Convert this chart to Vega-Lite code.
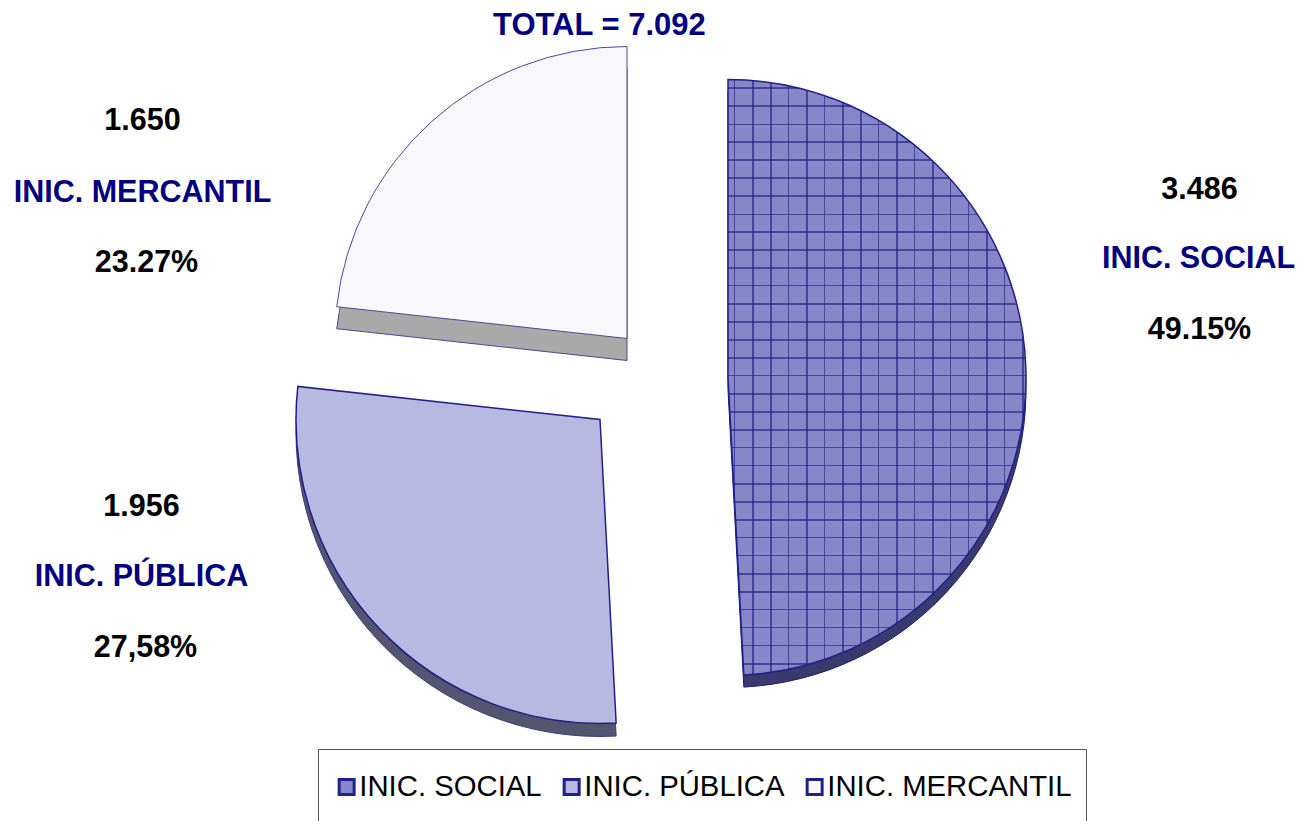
{
"$schema":"https://vega.github.io/schema/vega-lite/v6.json",
"width":1299,"height":821,"padding":0,"autosize":{"type":"none"},
"background":"white",
"title":{"text":"TOTAL = 7.092","font":"Liberation Sans","fontSize":31,"fontWeight":"bold","color":"#000080","anchor":"start","frame":"group","dx":493,"offset":-42},
"data":{"values":[
{"iniciativa":"INIC. SOCIAL","orden":1,"valor":3486,"valor_txt":"3.486","pct":"49.15%"},
{"iniciativa":"INIC. PÚBLICA","orden":2,"valor":1956,"valor_txt":"1.956","pct":"27,58%"},
{"iniciativa":"INIC. MERCANTIL","orden":3,"valor":1650,"valor_txt":"1.650","pct":"23.27%"}
]},
"transform":[{"stack":"valor","sort":[{"field":"orden","order":"ascending"}],"as":["t0","t1"]}],
"encoding":{
"theta":{"field":"t0","type":"quantitative","scale":{"domain":[0,7092],"range":[0,6.283185]}},
"theta2":{"field":"t1"}
},
"layer":[
{"transform":[{"filter":"datum.orden==1"}],"mark":{"type":"arc","outerRadius":298,"xOffset":78.5,"yOffset":-21,"fill":"#3a3a6e","stroke":"#1a1a6e","strokeWidth":1}},
{"transform":[{"filter":"datum.orden==2"}],"mark":{"type":"arc","outerRadius":304,"xOffset":-49.5,"yOffset":22,"fill":"#55556f","stroke":"#3a3a80","strokeWidth":1}},
{"transform":[{"filter":"datum.orden==3"}],"mark":{"type":"arc","outerRadius":292,"xOffset":-22.5,"yOffset":-50,"fill":"#a9a9a9","stroke":"#4a4a90","strokeWidth":1}},
{"transform":[{"filter":"datum.orden==1"}],"mark":{"type":"arc","outerRadius":298,"xOffset":78.5,"yOffset":-33,"stroke":"#20208a","strokeWidth":1.5},"encoding":{"color":{"field":"iniciativa","type":"nominal","sort":null,"scale":{"domain":["INIC. SOCIAL","INIC. PÚBLICA","INIC. MERCANTIL"],"range":["#8686c8","#b8b8e0","#f8f8fc"]},"legend":{"title":null,"orient":"none","legendX":318,"legendY":749,"direction":"horizontal","columns":3,"columnPadding":15,"padding":14,"clipHeight":48,"strokeColor":"#555555","fillColor":"white","symbolType":"square","symbolSize":225,"symbolStrokeColor":"#000080","symbolStrokeWidth":3,"labelFont":"Liberation Sans","labelFontSize":29.3,"labelColor":"#000000","labelOffset":-2,"labelLimit":400,"symbolOpacity":1}}}},
{"transform":[{"filter":"datum.orden==1"}],"mark":{"type":"arc","outerRadius":298,"xOffset":78.5,"yOffset":-33,"fill":{"gradient":"linear","x1":0,"x2":1,"y1":0,"y2":0,"stops":[
{"offset":0.020,"color":"#20208a00"},{"offset":0.020,"color":"#20208aa0"},{"offset":0.025,"color":"#20208aa0"},{"offset":0.025,"color":"#20208a00"},
{"offset":0.081,"color":"#20208a00"},{"offset":0.081,"color":"#20208aa0"},{"offset":0.086,"color":"#20208aa0"},{"offset":0.086,"color":"#20208a00"},
{"offset":0.141,"color":"#20208a00"},{"offset":0.141,"color":"#20208aa0"},{"offset":0.146,"color":"#20208aa0"},{"offset":0.146,"color":"#20208a00"},
{"offset":0.201,"color":"#20208a00"},{"offset":0.201,"color":"#20208aa0"},{"offset":0.206,"color":"#20208aa0"},{"offset":0.206,"color":"#20208a00"},
{"offset":0.262,"color":"#20208a00"},{"offset":0.262,"color":"#20208aa0"},{"offset":0.267,"color":"#20208aa0"},{"offset":0.267,"color":"#20208a00"},
{"offset":0.322,"color":"#20208a00"},{"offset":0.322,"color":"#20208aa0"},{"offset":0.327,"color":"#20208aa0"},{"offset":0.327,"color":"#20208a00"},
{"offset":0.383,"color":"#20208a00"},{"offset":0.383,"color":"#20208aa0"},{"offset":0.388,"color":"#20208aa0"},{"offset":0.388,"color":"#20208a00"},
{"offset":0.443,"color":"#20208a00"},{"offset":0.443,"color":"#20208aa0"},{"offset":0.448,"color":"#20208aa0"},{"offset":0.448,"color":"#20208a00"},
{"offset":0.503,"color":"#20208a00"},{"offset":0.503,"color":"#20208aa0"},{"offset":0.508,"color":"#20208aa0"},{"offset":0.508,"color":"#20208a00"},
{"offset":0.564,"color":"#20208a00"},{"offset":0.564,"color":"#20208aa0"},{"offset":0.569,"color":"#20208aa0"},{"offset":0.569,"color":"#20208a00"},
{"offset":0.624,"color":"#20208a00"},{"offset":0.624,"color":"#20208aa0"},{"offset":0.629,"color":"#20208aa0"},{"offset":0.629,"color":"#20208a00"},
{"offset":0.685,"color":"#20208a00"},{"offset":0.685,"color":"#20208aa0"},{"offset":0.690,"color":"#20208aa0"},{"offset":0.690,"color":"#20208a00"},
{"offset":0.745,"color":"#20208a00"},{"offset":0.745,"color":"#20208aa0"},{"offset":0.750,"color":"#20208aa0"},{"offset":0.750,"color":"#20208a00"},
{"offset":0.805,"color":"#20208a00"},{"offset":0.805,"color":"#20208aa0"},{"offset":0.810,"color":"#20208aa0"},{"offset":0.810,"color":"#20208a00"},
{"offset":0.866,"color":"#20208a00"},{"offset":0.866,"color":"#20208aa0"},{"offset":0.871,"color":"#20208aa0"},{"offset":0.871,"color":"#20208a00"},
{"offset":0.926,"color":"#20208a00"},{"offset":0.926,"color":"#20208aa0"},{"offset":0.931,"color":"#20208aa0"},{"offset":0.931,"color":"#20208a00"},
{"offset":0.987,"color":"#20208a00"},{"offset":0.987,"color":"#20208aa0"},{"offset":0.992,"color":"#20208aa0"},{"offset":0.992,"color":"#20208a00"}
]}}},
{"transform":[{"filter":"datum.orden==1"}],"mark":{"type":"arc","outerRadius":298,"xOffset":78.5,"yOffset":-33,"fill":{"gradient":"linear","x1":0,"x2":0,"y1":0,"y2":1,"stops":[
{"offset":0.013,"color":"#20208a00"},{"offset":0.013,"color":"#20208aa0"},{"offset":0.0155,"color":"#20208aa0"},{"offset":0.0155,"color":"#20208a00"},
{"offset":0.043,"color":"#20208a00"},{"offset":0.043,"color":"#20208aa0"},{"offset":0.0455,"color":"#20208aa0"},{"offset":0.0455,"color":"#20208a00"},
{"offset":0.074,"color":"#20208a00"},{"offset":0.074,"color":"#20208aa0"},{"offset":0.0765,"color":"#20208aa0"},{"offset":0.0765,"color":"#20208a00"},
{"offset":0.104,"color":"#20208a00"},{"offset":0.104,"color":"#20208aa0"},{"offset":0.1065,"color":"#20208aa0"},{"offset":0.1065,"color":"#20208a00"},
{"offset":0.134,"color":"#20208a00"},{"offset":0.134,"color":"#20208aa0"},{"offset":0.1365,"color":"#20208aa0"},{"offset":0.1365,"color":"#20208a00"},
{"offset":0.164,"color":"#20208a00"},{"offset":0.164,"color":"#20208aa0"},{"offset":0.1665,"color":"#20208aa0"},{"offset":0.1665,"color":"#20208a00"},
{"offset":0.194,"color":"#20208a00"},{"offset":0.194,"color":"#20208aa0"},{"offset":0.1965,"color":"#20208aa0"},{"offset":0.1965,"color":"#20208a00"},
{"offset":0.225,"color":"#20208a00"},{"offset":0.225,"color":"#20208aa0"},{"offset":0.2275,"color":"#20208aa0"},{"offset":0.2275,"color":"#20208a00"},
{"offset":0.255,"color":"#20208a00"},{"offset":0.255,"color":"#20208aa0"},{"offset":0.2575,"color":"#20208aa0"},{"offset":0.2575,"color":"#20208a00"},
{"offset":0.285,"color":"#20208a00"},{"offset":0.285,"color":"#20208aa0"},{"offset":0.2875,"color":"#20208aa0"},{"offset":0.2875,"color":"#20208a00"},
{"offset":0.315,"color":"#20208a00"},{"offset":0.315,"color":"#20208aa0"},{"offset":0.3175,"color":"#20208aa0"},{"offset":0.3175,"color":"#20208a00"},
{"offset":0.345,"color":"#20208a00"},{"offset":0.345,"color":"#20208aa0"},{"offset":0.3475,"color":"#20208aa0"},{"offset":0.3475,"color":"#20208a00"},
{"offset":0.376,"color":"#20208a00"},{"offset":0.376,"color":"#20208aa0"},{"offset":0.3785,"color":"#20208aa0"},{"offset":0.3785,"color":"#20208a00"},
{"offset":0.406,"color":"#20208a00"},{"offset":0.406,"color":"#20208aa0"},{"offset":0.4085,"color":"#20208aa0"},{"offset":0.4085,"color":"#20208a00"},
{"offset":0.436,"color":"#20208a00"},{"offset":0.436,"color":"#20208aa0"},{"offset":0.4385,"color":"#20208aa0"},{"offset":0.4385,"color":"#20208a00"},
{"offset":0.466,"color":"#20208a00"},{"offset":0.466,"color":"#20208aa0"},{"offset":0.4685,"color":"#20208aa0"},{"offset":0.4685,"color":"#20208a00"},
{"offset":0.496,"color":"#20208a00"},{"offset":0.496,"color":"#20208aa0"},{"offset":0.4985,"color":"#20208aa0"},{"offset":0.4985,"color":"#20208a00"},
{"offset":0.527,"color":"#20208a00"},{"offset":0.527,"color":"#20208aa0"},{"offset":0.5295,"color":"#20208aa0"},{"offset":0.5295,"color":"#20208a00"},
{"offset":0.557,"color":"#20208a00"},{"offset":0.557,"color":"#20208aa0"},{"offset":0.5595,"color":"#20208aa0"},{"offset":0.5595,"color":"#20208a00"},
{"offset":0.587,"color":"#20208a00"},{"offset":0.587,"color":"#20208aa0"},{"offset":0.5895,"color":"#20208aa0"},{"offset":0.5895,"color":"#20208a00"},
{"offset":0.617,"color":"#20208a00"},{"offset":0.617,"color":"#20208aa0"},{"offset":0.6195,"color":"#20208aa0"},{"offset":0.6195,"color":"#20208a00"},
{"offset":0.647,"color":"#20208a00"},{"offset":0.647,"color":"#20208aa0"},{"offset":0.6495,"color":"#20208aa0"},{"offset":0.6495,"color":"#20208a00"},
{"offset":0.678,"color":"#20208a00"},{"offset":0.678,"color":"#20208aa0"},{"offset":0.6805,"color":"#20208aa0"},{"offset":0.6805,"color":"#20208a00"},
{"offset":0.708,"color":"#20208a00"},{"offset":0.708,"color":"#20208aa0"},{"offset":0.7105,"color":"#20208aa0"},{"offset":0.7105,"color":"#20208a00"},
{"offset":0.738,"color":"#20208a00"},{"offset":0.738,"color":"#20208aa0"},{"offset":0.7405,"color":"#20208aa0"},{"offset":0.7405,"color":"#20208a00"},
{"offset":0.768,"color":"#20208a00"},{"offset":0.768,"color":"#20208aa0"},{"offset":0.7705,"color":"#20208aa0"},{"offset":0.7705,"color":"#20208a00"},
{"offset":0.798,"color":"#20208a00"},{"offset":0.798,"color":"#20208aa0"},{"offset":0.8005,"color":"#20208aa0"},{"offset":0.8005,"color":"#20208a00"},
{"offset":0.829,"color":"#20208a00"},{"offset":0.829,"color":"#20208aa0"},{"offset":0.8315,"color":"#20208aa0"},{"offset":0.8315,"color":"#20208a00"},
{"offset":0.859,"color":"#20208a00"},{"offset":0.859,"color":"#20208aa0"},{"offset":0.8615,"color":"#20208aa0"},{"offset":0.8615,"color":"#20208a00"},
{"offset":0.889,"color":"#20208a00"},{"offset":0.889,"color":"#20208aa0"},{"offset":0.8915,"color":"#20208aa0"},{"offset":0.8915,"color":"#20208a00"},
{"offset":0.919,"color":"#20208a00"},{"offset":0.919,"color":"#20208aa0"},{"offset":0.9215,"color":"#20208aa0"},{"offset":0.9215,"color":"#20208a00"},
{"offset":0.949,"color":"#20208a00"},{"offset":0.949,"color":"#20208aa0"},{"offset":0.9515,"color":"#20208aa0"},{"offset":0.9515,"color":"#20208a00"},
{"offset":0.980,"color":"#20208a00"},{"offset":0.980,"color":"#20208aa0"},{"offset":0.9825,"color":"#20208aa0"},{"offset":0.9825,"color":"#20208a00"}
]}}},
{"transform":[{"filter":"datum.orden==2"}],"mark":{"type":"arc","outerRadius":304,"xOffset":-49.5,"yOffset":9,"stroke":"#20208a","strokeWidth":1.5},"encoding":{"color":{"field":"iniciativa","type":"nominal","sort":null}}},
{"transform":[{"filter":"datum.orden==3"}],"mark":{"type":"arc","outerRadius":292,"xOffset":-22.5,"yOffset":-72,"stroke":"#4a4a90","strokeWidth":1},"encoding":{"color":{"field":"iniciativa","type":"nominal","sort":null}}},
{"transform":[{"filter":"datum.orden==1"}],"mark":{"type":"text","font":"Liberation Sans","fontSize":30.5,"fontWeight":"bold","color":"#000000","align":"center","baseline":"middle","xOffset":550,"yOffset":-221},"encoding":{"theta":null,"theta2":null,"text":{"field":"valor_txt"}}},
{"transform":[{"filter":"datum.orden==1"}],"mark":{"type":"text","font":"Liberation Sans","fontSize":30.5,"fontWeight":"bold","color":"#000080","align":"center","baseline":"middle","xOffset":549,"yOffset":-152},"encoding":{"theta":null,"theta2":null,"text":{"field":"iniciativa"}}},
{"transform":[{"filter":"datum.orden==1"}],"mark":{"type":"text","font":"Liberation Sans","fontSize":30.5,"fontWeight":"bold","color":"#000000","align":"center","baseline":"middle","xOffset":550,"yOffset":-81},"encoding":{"theta":null,"theta2":null,"text":{"field":"pct"}}},
{"transform":[{"filter":"datum.orden==2"}],"mark":{"type":"text","font":"Liberation Sans","fontSize":30.5,"fontWeight":"bold","color":"#000000","align":"center","baseline":"middle","xOffset":-508,"yOffset":96},"encoding":{"theta":null,"theta2":null,"text":{"field":"valor_txt"}}},
{"transform":[{"filter":"datum.orden==2"}],"mark":{"type":"text","font":"Liberation Sans","fontSize":30.5,"fontWeight":"bold","color":"#000080","align":"center","baseline":"middle","xOffset":-508,"yOffset":166},"encoding":{"theta":null,"theta2":null,"text":{"field":"iniciativa"}}},
{"transform":[{"filter":"datum.orden==2"}],"mark":{"type":"text","font":"Liberation Sans","fontSize":30.5,"fontWeight":"bold","color":"#000000","align":"center","baseline":"middle","xOffset":-504,"yOffset":237},"encoding":{"theta":null,"theta2":null,"text":{"field":"pct"}}},
{"transform":[{"filter":"datum.orden==3"}],"mark":{"type":"text","font":"Liberation Sans","fontSize":30.5,"fontWeight":"bold","color":"#000000","align":"center","baseline":"middle","xOffset":-507,"yOffset":-290},"encoding":{"theta":null,"theta2":null,"text":{"field":"valor_txt"}}},
{"transform":[{"filter":"datum.orden==3"}],"mark":{"type":"text","font":"Liberation Sans","fontSize":30.5,"fontWeight":"bold","color":"#000080","align":"center","baseline":"middle","xOffset":-507,"yOffset":-218},"encoding":{"theta":null,"theta2":null,"text":{"field":"iniciativa"}}},
{"transform":[{"filter":"datum.orden==3"}],"mark":{"type":"text","font":"Liberation Sans","fontSize":30.5,"fontWeight":"bold","color":"#000000","align":"center","baseline":"middle","xOffset":-503,"yOffset":-148},"encoding":{"theta":null,"theta2":null,"text":{"field":"pct"}}}
]
}
